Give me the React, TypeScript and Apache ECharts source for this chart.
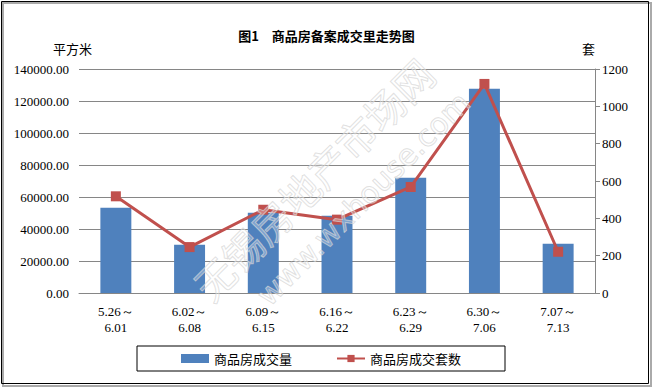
import React, { useEffect, useRef } from "react";
import * as echarts from "echarts";

const categories = ["5.26～\n6.01", "6.02～\n6.08", "6.09～\n6.15", "6.16～\n6.22", "6.23～\n6.29", "6.30～\n7.06", "7.07～\n7.13"];
const areaValues = [53300, 30200, 50200, 48300, 72100, 127700, 30800];
const unitValues = [518, 246, 446, 393, 568, 1120, 221];
const titleText = "图1　商品房备案成交里走势图";
const leftName = "平方米";
const rightName = "套";
const barName = "商品房成交量";
const lineName = "商品房成交套数";
const watermark = "无锡房地产市场网";
const watermark2 = "www.wxhouse.com";

const FONT = "'Noto Sans CJK SC', 'DejaVu Sans', sans-serif";
const NUMFONT = "'Liberation Serif', 'DejaVu Serif', serif";

export default function App() {
  const ref = useRef<HTMLDivElement>(null);
  useEffect(() => {
    document.body.style.margin = "0";
    const chart = echarts.init(ref.current!, null, { renderer: "svg" });
    chart.setOption({
      animation: false,
      backgroundColor: "#fff",
      title: {
        text: titleText,
        left: "center",
        top: 24,
        textStyle: { fontFamily: FONT, fontSize: 13, fontWeight: "bold", color: "#000" },
      },
      grid: { left: 79, right: 58, top: 69, bottom: 95 },
      legend: {
        left: 137,
        top: 346,
        width: 371,
        padding: [6, 44, 6, 44],
        borderColor: "#000",
        borderWidth: 1,
        itemGap: 44,
        itemWidth: 28,
        itemHeight: 9,
        textStyle: { fontFamily: FONT, fontSize: 13, color: "#000" },
        data: [
          { name: barName, icon: "rect" },
          { name: lineName },
        ],
      },
      xAxis: {
        type: "category",
        data: categories,
        axisLine: { lineStyle: { color: "#868686" } },
        axisTick: { show: false },
        axisLabel: { color: "#000", fontFamily: NUMFONT, fontSize: 13, lineHeight: 16, margin: 10 },
      },
      yAxis: [
        {
          type: "value",
          min: 0,
          max: 140000,
          interval: 20000,
          name: leftName,
          nameLocation: "end",
          nameGap: 14,
          nameTextStyle: { fontFamily: FONT, fontSize: 13, color: "#000", align: "left", padding: [0, 0, 0, -26] },
          axisLine: { show: false },
          axisTick: { show: false },
          splitLine: { lineStyle: { color: "#868686", width: 1 } },
          axisLabel: {
            color: "#000",
            fontFamily: NUMFONT,
            fontSize: 13,
            margin: 10,
            formatter: (v: number) => v.toFixed(2),
          },
        },
        {
          type: "value",
          min: 0,
          max: 1200,
          interval: 200,
          name: rightName,
          nameLocation: "end",
          nameGap: 14,
          nameTextStyle: { fontFamily: FONT, fontSize: 13, color: "#000", align: "right", padding: [0, 0, 0, 0] },
          axisLine: { show: true, lineStyle: { color: "#868686" } },
          axisTick: { show: true, length: 5, lineStyle: { color: "#868686" } },
          splitLine: { show: false },
          axisLabel: { color: "#000", fontFamily: NUMFONT, fontSize: 13, margin: 7, formatter: (v: number) => String(v) },
        },
      ],
      series: [
        {
          name: barName,
          type: "bar",
          data: areaValues,
          barWidth: "42%",
          itemStyle: { color: "#4F81BD" },
        },
        {
          name: lineName,
          type: "line",
          yAxisIndex: 1,
          data: unitValues,
          symbol: "rect",
          symbolSize: 10,
          lineStyle: { color: "#C0504D", width: 3 },
          itemStyle: { color: "#C0504D" },
        },
      ],
      graphic: [
        {
          type: "rect",
          shape: { x: 3, y: 3, width: 648, height: 383 },
          style: { fill: "none", stroke: "#aaa", lineWidth: 2 },
          silent: true,
          z: -1,
        },
        {
          type: "rect",
          shape: { x: 1.5, y: 1.5, width: 647, height: 382 },
          style: { fill: "none", stroke: "#000", lineWidth: 1 },
          silent: true,
        },
        {
          type: "text",
          x: 200,
          y: 292,
          rotation: (45 * Math.PI) / 180,
          style: {
            text: watermark,
            fontFamily: FONT,
            fontSize: 40,
            verticalAlign: "middle",
            fill: "rgba(255,255,255,0.3)",
            stroke: "rgba(205,205,205,0.7)",
            lineWidth: 1,
          },
          silent: true,
          z: 100,
        },
        {
          type: "text",
          x: 262,
          y: 300,
          rotation: (45 * Math.PI) / 180,
          style: {
            text: watermark2,
            fontFamily: "'DejaVu Sans', sans-serif",
            fontSize: 30,
            verticalAlign: "middle",
            fill: "rgba(255,255,255,0.3)",
            stroke: "rgba(205,205,205,0.7)",
            lineWidth: 1,
          },
          silent: true,
          z: 100,
        },
      ],
    });
    return () => chart.dispose();
  }, []);
  return <div ref={ref} style={{ width: 653, height: 388 }} />;
}
